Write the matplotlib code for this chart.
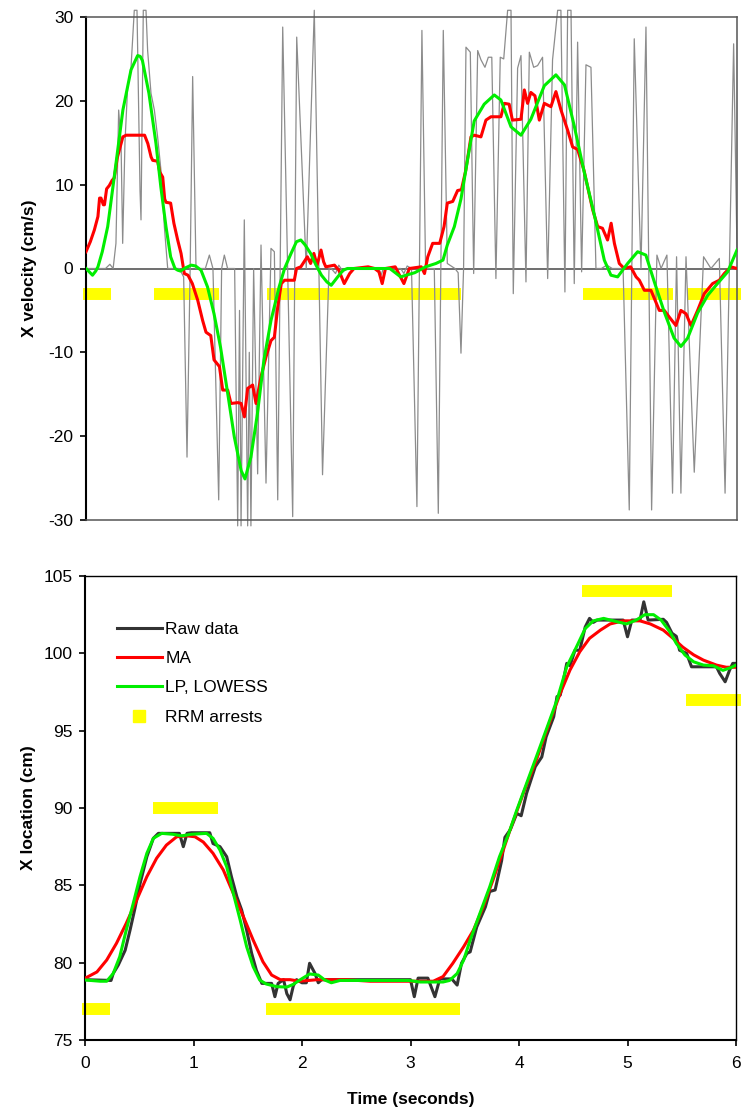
import numpy as np
import matplotlib
matplotlib.use('Agg')
import matplotlib.pyplot as plt
from matplotlib.lines import Line2D

plt.rcParams['font.family'] = ['Liberation Sans', 'DejaVu Sans']
plt.rcParams['axes.unicode_minus'] = False

# ---- top panel: X velocity (cm/s) ----
# raw velocity (differentiated raw location), spiky; off-scale peaks stop just past the frame
raw_vel_t = [0.00, 0.18, 0.22, 0.25, 0.276, 0.301, 0.323, 0.338, 0.359, 0.384, 0.415, 0.445,
             0.47, 0.498, 0.507, 0.528, 0.553, 0.568, 0.599, 0.63, 0.66, 0.691, 0.722, 0.753,
             0.86, 0.90, 0.931, 0.96, 0.983, 1.014, 1.10, 1.137, 1.17, 1.223, 1.25, 1.275,
             1.305, 1.37, 1.398, 1.415, 1.429, 1.459, 1.49, 1.505, 1.52, 1.545, 1.582, 1.613,
             1.659, 1.705, 1.736, 1.767, 1.813, 1.905, 1.942, 2.03, 2.104, 2.18, 2.24, 2.26,
             2.30, 2.33, 2.37, 2.40, 2.70, 2.72, 2.74, 2.90, 2.93, 2.96, 3.00, 3.05, 3.096,
             3.13, 3.21, 3.247, 3.293, 3.33, 3.40, 3.43, 3.456, 3.48, 3.502, 3.542, 3.573,
             3.61, 3.64, 3.677, 3.708, 3.74, 3.778, 3.818, 3.85, 3.886, 3.917, 3.938, 3.978,
             4.009, 4.055, 4.086, 4.126, 4.162, 4.208, 4.255, 4.30, 4.347, 4.377, 4.414, 4.439,
             4.47, 4.50, 4.531, 4.568, 4.608, 4.654, 4.70, 4.75, 4.80, 4.85, 4.95, 5.007,
             5.053, 5.115, 5.161, 5.213, 5.262, 5.30, 5.354, 5.406, 5.443, 5.483, 5.53, 5.606,
             5.692, 5.76, 5.837, 5.89, 5.969, 6.00]
raw_vel = [0.0, 0.0, 0.5, 0.0, 3.0, 18.9, 15.0, 3.0, 15.0, 21.7, 24.0, 30.8,
           30.8, 9.3, 5.8, 30.8, 30.8, 26.0, 20.9, 18.9, 15.7, 11.7, 5.0, 0.0,
           0.0, -1.0, -22.5, 0.0, 22.9, 0.0, 0.0, 1.6, 0.0, -27.6, 0.0, 1.6,
           0.0, 0.0, -30.7, -5.0, -30.7, 5.8, -30.7, -10.0, -30.7, 0.0, -24.5, 2.8,
           -25.6, 2.4, 2.0, -27.6, 28.8, -29.6, 27.6, 0.0, 30.8, -24.6, 0.0, 0.0,
           -0.6, 0.4, -0.4, 0.0, 0.0, -0.8, 0.0, 0.0, -0.6, 0.3, 0.0, -28.4, 28.4,
           0.0, 0.0, -29.2, 28.4, 0.6, 0.0, -0.5, -10.1, 0.0, 26.4, 25.8, -0.6,
           26.0, 24.9, 24.0, 25.2, 25.2, -1.2, 25.2, 25.0, 30.8, 30.8, -3.0, 23.9,
           25.4, -1.6, 25.8, 24.0, 24.2, 25.2, -1.2, 24.9, 30.8, 30.8, -2.8, 30.8,
           30.8, -1.8, 27.0, -0.4, 24.3, 24.0, 0.0, 0.0, 0.4, 0.0, 0.0, -28.8,
           27.4, 0.0, 28.8, -28.8, 1.6, 0.0, 1.6, -26.8, 1.4, -26.8, 1.4, -24.3,
           1.4, 0.0, 1.2, -26.8, 26.8, 2.0]

# moving average velocity
ma_vel_t = [0.00, 0.04, 0.077, 0.11, 0.125, 0.138, 0.16, 0.17, 0.19, 0.215, 0.24, 0.26, 0.29,
            0.34, 0.37, 0.54, 0.57, 0.60, 0.615, 0.66, 0.68, 0.707, 0.725, 0.737, 0.78, 0.81,
            0.845, 0.876, 0.906, 0.94, 0.98, 1.03, 1.075, 1.106, 1.15, 1.18, 1.23, 1.26,
            1.306, 1.336, 1.40, 1.43, 1.46, 1.49, 1.536, 1.567, 1.613, 1.66, 1.705, 1.736,
            1.767, 1.80, 1.83, 1.92, 1.94, 1.98, 2.04, 2.07, 2.10, 2.13, 2.166, 2.19, 2.21,
            2.29, 2.33, 2.38, 2.43, 2.47, 2.60, 2.66, 2.70, 2.73, 2.76, 2.85, 2.93, 2.98,
            3.09, 3.12, 3.15, 3.195, 3.26, 3.30, 3.33, 3.38, 3.425, 3.46, 3.50, 3.548, 3.58,
            3.64, 3.686, 3.732, 3.824, 3.855, 3.90, 3.93, 4.009, 4.04, 4.07, 4.10, 4.138,
            4.178, 4.224, 4.285, 4.331, 4.378, 4.439, 4.485, 4.531, 4.59, 4.67, 4.716, 4.76,
            4.807, 4.84, 4.87, 4.915, 4.96, 5.02, 5.07, 5.10, 5.146, 5.207, 5.284, 5.33,
            5.376, 5.437, 5.483, 5.53, 5.576, 5.637, 5.698, 5.775, 5.837, 5.883, 5.944, 6.00]
ma_vel = [2.0, 3.2, 4.6, 6.2, 8.4, 8.4, 7.6, 7.6, 9.5, 9.9, 10.5, 10.8, 13.3,
          15.7, 15.9, 15.9, 14.9, 13.3, 12.9, 12.8, 11.5, 10.9, 8.3, 7.9, 7.8, 5.4,
          3.4, 1.8, -0.6, -0.8, -1.8, -3.8, -6.2, -7.6, -8.0, -10.9, -11.7, -14.5,
          -14.5, -16.1, -16.0, -16.1, -17.7, -14.3, -13.9, -16.1, -12.9, -10.5, -8.6, -8.2,
          -4.6, -1.8, -1.4, -1.4, 0.0, 0.2, 1.4, 0.6, 1.8, 0.4, 2.2, 0.8, 0.2,
          0.4, -0.2, -1.8, -0.6, 0.0, 0.2, 0.0, -0.4, -1.8, 0.0, 0.2, -1.8, 0.0,
          0.2, -0.6, 1.4, 3.0, 3.0, 5.0, 7.8, 8.0, 9.3, 9.4, 11.7, 15.7, 15.9,
          15.7, 17.7, 18.1, 18.1, 19.7, 19.6, 17.7, 17.8, 21.3, 19.7, 21.0, 20.6,
          17.7, 19.7, 19.3, 21.1, 18.9, 16.5, 14.5, 14.2, 11.7, 7.0, 5.0, 4.8,
          3.4, 5.4, 3.0, 0.6, 0.0, 0.2, -1.0, -1.4, -2.6, -2.6, -5.0, -5.0,
          -5.8, -6.8, -5.0, -5.4, -6.8, -5.0, -3.0, -1.8, -1.4, -0.6, 0.2, 0.0]

# LP / LOWESS velocity
lp_vel_t = [0.00, 0.03, 0.06, 0.09, 0.11, 0.15, 0.20, 0.26, 0.34, 0.415, 0.476, 0.50, 0.52,
            0.58, 0.645, 0.69, 0.737, 0.78, 0.82, 0.845, 0.87, 0.92, 0.97, 1.01, 1.06, 1.12,
            1.18, 1.24, 1.306, 1.367, 1.43, 1.465, 1.52, 1.58, 1.64, 1.705, 1.78, 1.83, 1.89,
            1.94, 1.98, 2.02, 2.07, 2.12, 2.17, 2.22, 2.26, 2.32, 2.37, 2.41, 2.72, 2.80,
            2.85, 2.90, 2.95, 3.03, 3.13, 3.225, 3.29, 3.33, 3.395, 3.456, 3.517, 3.578,
            3.67, 3.763, 3.824, 3.917, 4.009, 4.10, 4.224, 4.331, 4.41, 4.50, 4.59, 4.685,
            4.777, 4.838, 4.90, 4.992, 5.084, 5.16, 5.238, 5.33, 5.42, 5.483, 5.545, 5.637,
            5.73, 5.82, 5.914, 6.00]
lp_vel = [0.0, -0.4, -0.8, -0.3, 0.2, 2.0, 5.0, 10.9, 18.9, 23.7, 25.4, 25.3, 24.8,
          20.9, 14.9, 9.7, 5.0, 1.4, 0.0, -0.2, -0.3, 0.1, 0.4, 0.3, -0.2, -2.2,
          -5.4, -9.4, -14.9, -20.1, -24.1, -25.1, -22.5, -17.3, -10.9, -6.2, -2.2, 0.0, 1.8,
          3.2, 3.4, 2.8, 1.8, 0.4, -0.8, -1.6, -2.0, -1.0, -0.2, 0.0, 0.0, 0.0,
          -0.5, -1.0, -0.8, -0.5, 0.2, 0.6, 1.0, 2.8, 5.0, 8.3, 13.0, 17.6,
          19.6, 20.7, 20.1, 16.9, 15.9, 17.8, 21.8, 23.1, 21.9, 17.0, 11.6, 6.4,
          1.0, -0.8, -1.0, 0.6, 2.0, 1.6, -1.6, -5.2, -8.3, -9.3, -8.3, -5.3,
          -3.2, -1.8, -0.4, 2.2]

# RRM arrest periods (seconds) and where the bars sit on each panel
arrest_start = [-0.03, 0.63, 1.67, 4.58, 5.54]
arrest_end = [0.23, 1.23, 3.46, 5.41, 6.05]
arrest_vel = [-3, -3, -3, -3, -3]
arrest_loc = [77, 90, 77, 104, 97]

# ---- bottom panel: X location (cm) ----
raw_loc_t = [0.00, 0.24, 0.26, 0.307, 0.37, 0.415, 0.46, 0.507, 0.57, 0.63, 0.676, 0.87,
             0.906, 0.94, 0.98, 1.15, 1.18, 1.244, 1.306, 1.35, 1.40, 1.444, 1.49, 1.536,
             1.58, 1.63, 1.72, 1.75, 1.78, 1.83, 1.86, 1.89, 1.92, 1.95, 2.00, 2.04, 2.07,
             2.12, 2.15, 2.18, 2.95, 3.00, 3.035, 3.07, 3.16, 3.225, 3.27, 3.38, 3.43, 3.47,
             3.52, 3.55, 3.61, 3.69, 3.73, 3.78, 3.84, 3.87, 3.92, 3.98, 4.02, 4.07, 4.15,
             4.21, 4.25, 4.32, 4.35, 4.38, 4.41, 4.44, 4.47, 4.516, 4.56, 4.61, 4.65, 4.685,
             4.72, 4.96, 5.00, 5.04, 5.115, 5.15, 5.19, 5.33, 5.36, 5.41, 5.45, 5.48, 5.545,
             5.59, 5.62, 5.82, 5.85, 5.90, 5.94, 5.97, 6.00]
raw_loc = [78.9, 78.85, 79.3, 79.85, 80.8, 82.1, 83.5, 85.1, 86.85, 88.04, 88.36, 88.36,
           87.5, 88.36, 88.4, 88.4, 87.7, 87.5, 86.85, 85.55, 84.26, 83.4, 82.1, 80.6,
           79.5, 78.66, 78.66, 77.8, 78.66, 78.9, 78.0, 77.6, 78.5, 78.9, 78.7, 78.7, 79.96,
           79.3, 78.7, 78.9, 78.9, 78.9, 77.8, 79.0, 79.0, 77.8, 78.95, 78.95, 78.55, 79.96,
           80.6, 80.7, 82.3, 83.6, 84.6, 84.7, 86.6, 88.1, 88.6, 89.65, 89.5, 90.95, 92.67,
           93.3, 94.6, 95.9, 97.2, 97.3, 98.27, 99.35, 99.2, 100.2, 100.2, 101.7, 102.26, 102.0,
           102.15, 102.15, 101.07, 102.15, 102.15, 103.33, 102.15, 102.2, 102.0, 101.3, 101.1, 100.2, 100.0,
           99.13, 99.13, 99.13, 98.7, 98.16, 98.9, 99.35, 99.35]

ma_loc_t = [0.00, 0.11, 0.20, 0.29, 0.38, 0.476, 0.57, 0.66, 0.75, 0.845, 0.94, 1.014, 1.09,
            1.18, 1.275, 1.367, 1.46, 1.55, 1.64, 1.72, 1.80, 1.89, 1.98, 2.14, 2.40, 2.63,
            2.93, 3.21, 3.30, 3.39, 3.49, 3.58, 3.67, 3.76, 3.855, 3.917, 4.04, 4.16, 4.29,
            4.38, 4.47, 4.56, 4.65, 4.75, 4.84, 4.96, 5.115, 5.21, 5.33, 5.42, 5.51, 5.61,
            5.70, 5.82, 5.91, 6.00]
ma_loc = [78.99, 79.4, 80.17, 81.25, 82.54, 84.05, 85.56, 86.75, 87.6, 88.14, 88.2, 88.14, 87.8,
          87.07, 85.99, 84.48, 82.97, 81.46, 80.06, 79.2, 78.9, 78.9, 78.8, 78.9, 78.9, 78.8,
          78.8, 78.8, 79.1, 79.96, 81.03, 82.1, 83.6, 85.34, 87.28, 88.57, 90.95, 93.1, 95.69,
          97.41, 98.92, 100.1, 100.97, 101.5, 101.9, 102.1, 102.1, 101.9, 101.5, 100.97, 100.4, 99.9,
          99.56, 99.24, 99.1, 99.1]

lp_loc_t = [0.00, 0.14, 0.20, 0.26, 0.32, 0.38, 0.445, 0.507, 0.57, 0.63, 0.707, 0.81, 0.89,
            0.98, 1.12, 1.18, 1.244, 1.306, 1.367, 1.43, 1.49, 1.55, 1.61, 1.67, 1.767, 1.86,
            1.92, 1.98, 2.07, 2.15, 2.21, 2.27, 2.35, 2.63, 2.98, 3.09, 3.30, 3.36, 3.43,
            3.49, 3.55, 3.64, 3.73, 3.82, 3.90, 3.98, 4.07, 4.16, 4.25, 4.35, 4.44, 4.53,
            4.61, 4.685, 4.78, 4.87, 4.99, 5.08, 5.16, 5.24, 5.31, 5.39, 5.45, 5.53, 5.61,
            5.70, 5.79, 5.88, 5.96, 6.00]
lp_loc = [78.88, 78.8, 78.8, 79.3, 80.38, 82.1, 83.84, 85.56, 87.07, 88.04, 88.36, 88.3, 88.2,
          88.3, 88.36, 88.04, 87.28, 86.2, 84.48, 82.76, 81.03, 79.74, 78.88, 78.62, 78.45, 78.42,
          78.6, 78.88, 79.27, 79.2, 78.88, 78.7, 78.85, 78.85, 78.85, 78.75, 78.75, 78.85, 79.3,
          80.17, 81.46, 83.19, 84.9, 86.85, 88.25, 89.87, 91.59, 93.31, 95.04, 96.98, 99.13, 100.42,
          101.6, 102.1, 102.26, 102.1, 101.9, 102.15, 102.5, 102.5, 102.15, 101.4, 100.64, 99.89, 99.45,
          99.24, 99.2, 98.9, 99.1, 99.24]

vel_yticks = [-30, -20, -10, 0, 10, 20, 30]
loc_yticks = [75, 80, 85, 90, 95, 100, 105]
time_ticks = [0, 1, 2, 3, 4, 5, 6]

RED = '#ff0000'
GREEN = '#00ee00'
YELLOW = '#ffff00'
FS = 12.5

fig = plt.figure(figsize=(7.41, 11.1), dpi=100)
ax1 = fig.add_axes([86 / 741, 1 - 520 / 1110, 651 / 741, 503 / 1110])
ax2 = fig.add_axes([85 / 741, 1 - 1040 / 1110, 651 / 741, 464 / 1110])

# top panel
ax1.hlines(arrest_vel, arrest_start, arrest_end, colors=YELLOW, linewidth=8.6,
           capstyle='butt', zorder=1, clip_on=False)
ax1.axhline(0, color='#555555', linewidth=1.2, zorder=1.5)
ax1.plot(raw_vel_t, raw_vel, color='#8c8c8c', linewidth=0.9, zorder=2, clip_on=False)
ax1.plot(ma_vel_t, ma_vel, color=RED, linewidth=2.2, zorder=3)
ax1.plot(lp_vel_t, lp_vel, color=GREEN, linewidth=2.2, zorder=4)
ax1.set_xlim(0, 6)
ax1.set_ylim(-30, 30)
ax1.set_yticks(vel_yticks)
ax1.set_xticks([])
for side in ['top', 'right', 'bottom']:
    ax1.spines[side].set_color('#555555')
    ax1.spines[side].set_linewidth(1.1)
ax1.spines['left'].set_linewidth(1.5)
ax1.tick_params(axis='y', direction='out', length=4, width=1.2, pad=5, labelsize=FS)
ax1.set_ylabel('X velocity (cm/s)', fontsize=FS, fontweight='bold')
ax1.yaxis.set_label_coords(-0.076, 0.5)

# bottom panel
ax2.hlines(arrest_loc, arrest_start, arrest_end, colors=YELLOW, linewidth=8.6,
           capstyle='butt', zorder=1, clip_on=False)
ax2.plot(raw_loc_t, raw_loc, color='#333333', linewidth=2.2, zorder=2)
ax2.plot(ma_loc_t, ma_loc, color=RED, linewidth=2.2, zorder=3)
ax2.plot(lp_loc_t, lp_loc, color=GREEN, linewidth=2.2, zorder=4)
ax2.set_xlim(0, 6)
ax2.set_ylim(75, 105)
ax2.set_yticks(loc_yticks)
ax2.set_xticks(time_ticks)
for side in ['top', 'right']:
    ax2.spines[side].set_linewidth(1.0)
for side in ['left', 'bottom']:
    ax2.spines[side].set_linewidth(1.5)
ax2.tick_params(axis='y', direction='out', length=4, width=1.2, pad=5, labelsize=FS)
ax2.tick_params(axis='x', direction='out', length=4, width=1.2, pad=7.5, labelsize=FS)
ax2.set_ylabel('X location (cm)', fontsize=FS, fontweight='bold')
ax2.yaxis.set_label_coords(-0.076, 0.5)
ax2.set_xlabel('Time (seconds)', fontsize=FS, fontweight='bold')
ax2.xaxis.set_label_coords(0.5, -0.113)

handles = [Line2D([], [], color='#333333', linewidth=2.2),
           Line2D([], [], color=RED, linewidth=2.2),
           Line2D([], [], color=GREEN, linewidth=2.2),
           Line2D([], [], color=YELLOW, marker='s', markersize=9, linestyle='none')]
labels = ['Raw data', 'MA', 'LP, LOWESS', 'RRM arrests']
ax2.legend(handles, labels, loc='upper left', bbox_to_anchor=(0.0486, 0.902),
           frameon=False, fontsize=FS, handlelength=2.6, handletextpad=0.2,
           labelspacing=0.82, borderpad=0, borderaxespad=0)

fig.savefig('out.png', dpi=100)
